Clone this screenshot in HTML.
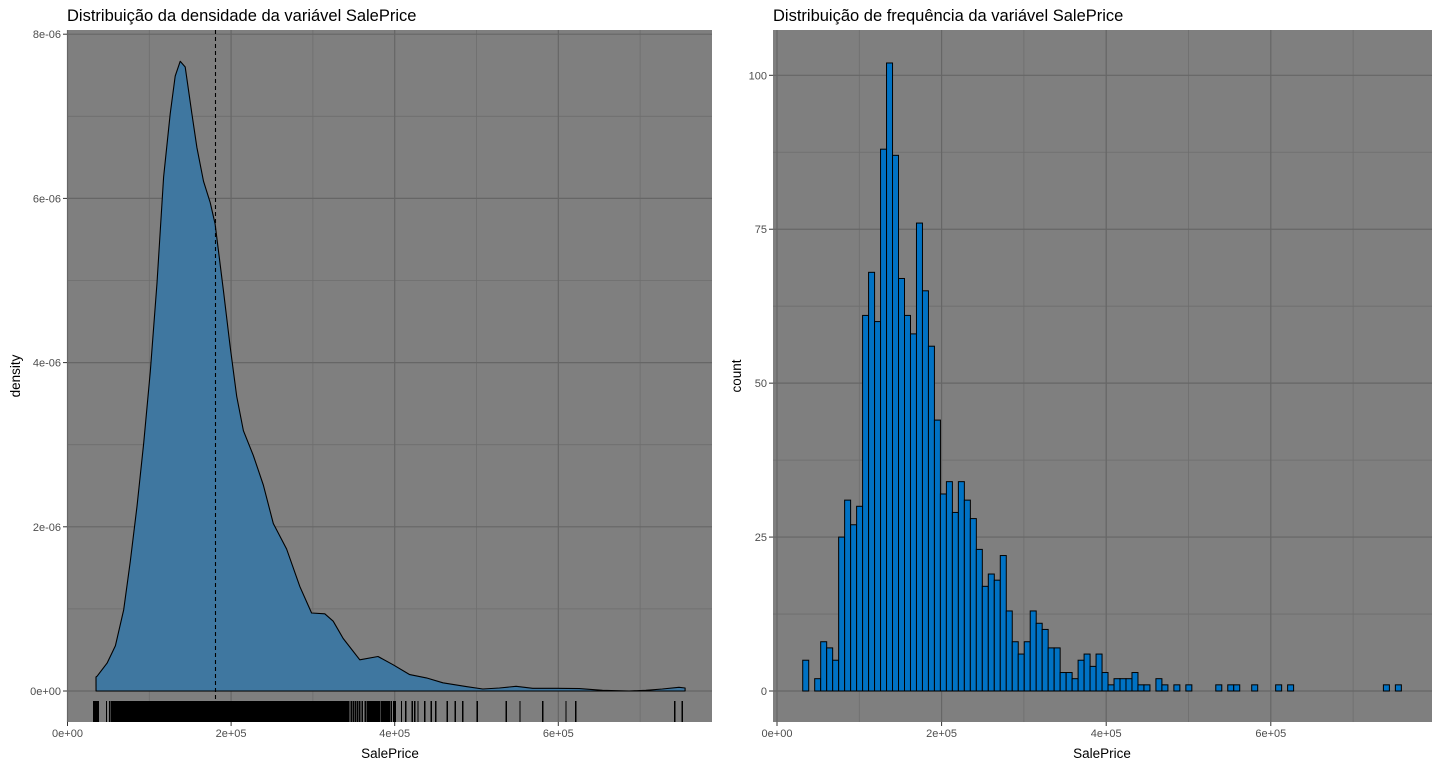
<!DOCTYPE html>
<html><head><meta charset="utf-8">
<style>
html,body{margin:0;padding:0;background:#fff;}
svg{display:block;font-family:"Liberation Sans",Arial,sans-serif;}
</style></head>
<body>
<svg id="chart" width="1440" height="768" viewBox="0 0 1440 768" xmlns="http://www.w3.org/2000/svg">
<text x="67" y="21" font-size="16.5" fill="#000">Distribuição da densidade da variável SalePrice</text>
<text x="773" y="21" font-size="16.5" fill="#000">Distribuição de frequência da variável SalePrice</text>
<g id="left"></g>
<g id="right"></g>
<text x="390" y="758" font-size="13.5" text-anchor="middle" fill="#000">SalePrice</text>
<text x="1102" y="758" font-size="13.5" text-anchor="middle" fill="#000">SalePrice</text>
<text transform="translate(20,376) rotate(-90)" font-size="13.5" text-anchor="middle" fill="#000">density</text>
<text transform="translate(741,376) rotate(-90)" font-size="13.5" text-anchor="middle" fill="#000">count</text>
</svg>
<script>
const densX = [34900,36200,48400,58500,68700,76800,85000,93100,101200,109400,117500,125600,131700,137800,143900,152100,158200,166300,174400,180500,190700,198800,206900,215000,227200,239400,251600,267900,284100,298400,314600,324800,337000,357300,379600,397900,418300,438700,458900,487400,507700,528000,548400,568700,597200,625600,654000,686600,707000,727200,747600,755000];
const densY = [0.17,0.18,0.34,0.55,0.99,1.58,2.25,3.02,3.89,4.97,6.26,7.03,7.49,7.67,7.60,7.03,6.62,6.21,5.95,5.69,4.87,4.20,3.59,3.17,2.87,2.51,2.04,1.73,1.27,0.95,0.94,0.85,0.64,0.38,0.42,0.32,0.20,0.16,0.10,0.053,0.024,0.037,0.057,0.033,0.033,0.029,0.008,0,0.008,0.024,0.045,0.037];
const meanPrice = 180921;
const histCounts = [5,0,2,8,7,5,25,31,27,30,61,68,60,88,102,87,67,61,58,76,65,56,44,32,34,29,34,31,28,23,17,19,18,22,13,8,6,8,13,11,10,7,7,3,3,2,5,6,4,6,3,1,2,2,2,3,1,1,0,2,1,0,1,0,1,0,0,0,0,1,0,1,1,0,0,1,0,0,0,1,0,1,0,0,0,0,0,0,0,0,0,0,0,0,0,0,0,1,0,1];
const histMin = 34900;
const histMax = 755000;
const rugTail = [400000,408200,413400,421500,424400,428400,436600,444700,450000,464200,473900,483300,500800,536200,553300,580900,609300,621500,742300,751600];
const densTicksX = [0,200000,400000,600000];
const densTickLabelsX = ["0e+00","2e+05","4e+05","6e+05"];
const densTicksY = [0,2,4,6,8];
const densTickLabelsY = ["0e+00","2e-06","4e-06","6e-06","8e-06"];
const histTicksY = [0,25,50,75,100];
const histTickLabelsY = ["0","25","50","75","100"];

const NS = "http://www.w3.org/2000/svg";
function mk(parent, tag, attrs){const e=document.createElementNS(NS,tag);for(const k in attrs)e.setAttribute(k,attrs[k]);parent.appendChild(e);return e;}

const L = {x0:67, x1:712, y0:30, y1:722};
const lx = v => 67.5 + v*81.8/100000;
const ly = v => 691 - v*82.1;
const R = {x0:773, x1:1432, y0:30, y1:722};
const rx = v => 777 + v*82.3/100000;
const ry = v => 691 - v*6.157;

function panel(g, P, xs, ys, xMinor, yMinor, xt, xtl, yt, ytl, name){
  const bg = mk(g,'rect',{x:P.x0,y:P.y0,width:P.x1-P.x0,height:P.y1-P.y0,fill:'#7f7f7f'});
  
  
  xMinor.forEach(v=>{const l=mk(g,'line',{x1:xs(v),x2:xs(v),y1:P.y0,y2:P.y1,stroke:'#6e6e6e','stroke-width':0.8});});
  yMinor.forEach(v=>{const l=mk(g,'line',{x1:P.x0,x2:P.x1,y1:ys(v),y2:ys(v),stroke:'#6e6e6e','stroke-width':0.8});});
  xt.forEach((v,i)=>{
    const l=mk(g,'line',{x1:xs(v),x2:xs(v),y1:P.y0,y2:P.y1,stroke:'#666','stroke-width':1.2});
    
    const t=mk(g,'line',{x1:xs(v),x2:xs(v),y1:P.y1,y2:P.y1+4,stroke:'#333','stroke-width':1});
    
    const tx=mk(g,'text',{x:xs(v),y:P.y1+15,'font-size':11,'text-anchor':'middle',fill:'#4d4d4d'});tx.textContent=xtl[i];
    
  });
  yt.forEach((v,i)=>{
    const l=mk(g,'line',{x1:P.x0,x2:P.x1,y1:ys(v),y2:ys(v),stroke:'#666','stroke-width':1.2});
    
    const t=mk(g,'line',{x1:P.x0-4,x2:P.x0,y1:ys(v),y2:ys(v),stroke:'#333','stroke-width':1});
    
    const tx=mk(g,'text',{x:P.x0-6,y:ys(v)+4,'font-size':11,'text-anchor':'end',fill:'#4d4d4d'});tx.textContent=ytl[i];
    
  });
}

const gl = document.getElementById('left');
panel(gl, L, lx, ly, [100000,300000,500000,700000], [1,3,5,7], densTicksX, densTickLabelsX, densTicksY, densTickLabelsY, 'density');
let d = 'M'+lx(densX[0])+','+ly(0);
densX.forEach((v,i)=>{d+=' L'+lx(v).toFixed(1)+','+ly(densY[i]).toFixed(1);});
d += ' L'+lx(densX[densX.length-1])+','+ly(0)+' Z';
const area = mk(gl,'path',{d:d,fill:'#3f77a0',stroke:'#000','stroke-width':1.1,'stroke-linejoin':'round'});


const ml = mk(gl,'line',{x1:lx(meanPrice),x2:lx(meanPrice),y1:L.y0,y2:L.y1,stroke:'#000','stroke-width':1.1,'stroke-dasharray':'4,3'});


const bw = (histMax-histMin)/99;
const rug = mk(gl,'g',{'shape-rendering':'crispEdges'});


histCounts.forEach((c,i)=>{
  const lo = histMin - bw/2 + i*bw;
  if (lo >= 395000) return;
  for(let k=0;k<c;k++){
    const v = lo + (k+0.5)*bw/c;
    const r=mk(rug,'line',{x1:lx(v),x2:lx(v),y1:701,y2:722,stroke:'#000','stroke-width':1.3});
    
    
  }
});
rugTail.forEach(v=>{
  const r=mk(rug,'line',{x1:lx(v),x2:lx(v),y1:701,y2:722,stroke:'#000','stroke-width':1.3});
  
  
});

const gr = document.getElementById('right');
panel(gr, R, rx, ry, [100000,300000,500000,700000], [12.5,37.5,62.5,87.5], densTicksX, densTickLabelsX, histTicksY, histTickLabelsY, 'histogram');
histCounts.forEach((c,i)=>{
  const lo = histMin - bw/2 + i*bw;
  const x1 = rx(lo), x2 = rx(lo+bw);
  const b = mk(gr,'rect',{x:x1.toFixed(2),y:ry(c).toFixed(2),width:(x2-x1).toFixed(2),height:(ry(0)-ry(c)).toFixed(2),fill:'#0072c4',stroke:'#000','stroke-width':1});
  
  
});
</script>
</body></html>
